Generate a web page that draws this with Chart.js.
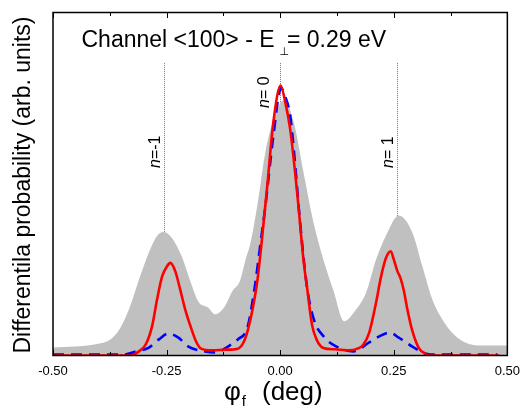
<!DOCTYPE html>
<html>
<head>
<meta charset="utf-8">
<script src="https://cdn.jsdelivr.net/npm/chart.js@4.4.1/dist/chart.umd.min.js"></script>
<style>
  html, body { margin: 0; padding: 0; background: #fff; }
  canvas { display: block; }
</style>
</head>
<body>
<canvas id="c" width="528" height="412"></canvas>
<script>
// Angular distribution of channelled ions, <100> channel, E_perp = 0.29 eV
// Experimental envelope (grey fill)
const expAngles = [-0.50,-0.45,-0.42,-0.398,-0.374,-0.354,-0.333,-0.311,-0.289,-0.272,-0.257,-0.239,-0.217,-0.196,-0.18,-0.159,-0.143,-0.122,-0.104,-0.089,-0.076,-0.065,-0.05,-0.033,-0.014,0.008,0.03,0.052,0.073,0.095,0.117,0.141,0.167,0.189,0.211,0.233,0.261,0.291,0.313,0.335,0.357,0.378,0.407,0.45,0.50];
const expValues = [0.023,0.026,0.03,0.035,0.047,0.076,0.134,0.22,0.30,0.347,0.36,0.344,0.29,0.21,0.157,0.14,0.12,0.143,0.19,0.216,0.28,0.33,0.44,0.59,0.69,0.745,0.68,0.53,0.39,0.28,0.19,0.10,0.134,0.183,0.28,0.35,0.408,0.358,0.26,0.163,0.105,0.067,0.038,0.029,0.029];

// Full calculation (red solid)
const fullAngles = [-0.50,-0.33,-0.322,-0.311,-0.296,-0.282,-0.271,-0.26,-0.249,-0.242,-0.231,-0.22,-0.209,-0.195,-0.184,-0.174,-0.15,-0.12,-0.093,-0.08,-0.07,-0.06,-0.05,-0.04,-0.028,-0.015,0.001,0.011,0.022,0.037,0.052,0.059,0.07,0.08,0.095,0.12,0.152,0.17,0.182,0.196,0.211,0.222,0.233,0.2435,0.25,0.258,0.265,0.272,0.28,0.29,0.305,0.32,0.33,0.483];
const fullValues = [0,0,0.003,0.012,0.032,0.085,0.163,0.23,0.26,0.27,0.246,0.192,0.134,0.076,0.038,0.02,0.015,0.017,0.02,0.04,0.08,0.14,0.22,0.34,0.50,0.68,0.787,0.74,0.66,0.48,0.27,0.20,0.09,0.047,0.022,0.018,0.015,0.02,0.03,0.067,0.154,0.23,0.285,0.304,0.28,0.246,0.225,0.19,0.134,0.076,0.022,0.005,0,0];

// Approximate calculation (blue dashed)
const approxAngles = [-0.50,-0.343,-0.317,-0.289,-0.267,-0.246,-0.224,-0.202,-0.165,-0.141,-0.115,-0.093,-0.072,-0.057,-0.043,-0.033,-0.015,0.002,0.011,0.022,0.03,0.043,0.059,0.074,0.096,0.124,0.161,0.196,0.217,0.241,0.261,0.291,0.313,0.33,0.478];
const approxValues = [0.003,0.003,0.012,0.023,0.047,0.064,0.052,0.026,0.012,0.009,0.026,0.047,0.082,0.19,0.33,0.43,0.64,0.78,0.755,0.70,0.60,0.40,0.20,0.105,0.055,0.026,0.012,0.038,0.055,0.067,0.052,0.026,0.009,0.003,0.003];

// Axis ticks
const tickValues = [-0.50,-0.25,0.00,0.25,0.50];
const tickLabels = ['-0.50','-0.25','0.00','0.25','0.50'];
const minorTickValues = [-0.375,-0.125,0.125,0.375];

// Diffraction orders
const orderAngles = [-0.2565, 0, 0.2565];
const orderLabels = ['=-1', '= 0', '= 1'];

const FONT = '"Liberation Sans", Arial, "DejaVu Sans", sans-serif';

function pts(xs, ys) { return xs.map((x, i) => ({ x: x, y: ys[i] })); }

const decorations = {
  id: 'decorations',
  beforeDatasetsDraw(chart) {
    const { ctx, scales: { x, y }, chartArea } = chart;
    ctx.save();
    ctx.strokeStyle = '#7a7a7a';
    ctx.lineWidth = 1;
    ctx.setLineDash([1, 1]);
    orderAngles.forEach(a => {
      const px = Math.round(x.getPixelForValue(a)) + 0.5;
      ctx.beginPath();
      ctx.moveTo(px, y.getPixelForValue(0.853));
      ctx.lineTo(px, chartArea.bottom);
      ctx.stroke();
    });
    ctx.restore();
  },
  afterDraw(chart) {
    const { ctx, scales: { x, y }, chartArea: a } = chart;
    ctx.save();
    // frame
    ctx.strokeStyle = '#000';
    ctx.lineWidth = 1.5;
    ctx.strokeRect(a.left, a.top, a.right - a.left, a.bottom - a.top);
    // inward ticks on top and bottom
    ctx.lineWidth = 1;
    const tick = (v, len) => {
      const px = Math.round(x.getPixelForValue(v)) + 0.5;
      ctx.beginPath();
      ctx.moveTo(px, a.bottom); ctx.lineTo(px, a.bottom - len);
      ctx.moveTo(px, a.top); ctx.lineTo(px, a.top + len);
      ctx.stroke();
    };
    tickValues.forEach(v => tick(v, 5.5));
    minorTickValues.forEach(v => tick(v, 3.5));

    ctx.fillStyle = '#000';
    // title inside the plot
    ctx.textAlign = 'left';
    ctx.textBaseline = 'alphabetic';
    ctx.font = '23px ' + FONT;
    const t1 = 'Channel <100> - E';
    ctx.fillText(t1, 81.5, 46.5);
    const w1 = ctx.measureText(t1).width;
    ctx.font = '11px ' + FONT;
    ctx.fillText('\u22A5', 81.5 + w1 + 5, 55);
    ctx.font = '23px ' + FONT;
    ctx.fillText('= 0.29 eV', 287, 46.5);

    // order labels, rotated
    const baseOffsets = [-3.5, -11, -4];
    const starts = [168, 108, 168];
    orderAngles.forEach((ang, i) => {
      const px = x.getPixelForValue(ang) + baseOffsets[i];
      ctx.save();
      ctx.translate(px, starts[i]);
      ctx.rotate(-Math.PI / 2);
      ctx.font = 'italic 16px ' + FONT;
      ctx.fillText('n', 0, 0);
      const wn = ctx.measureText('n').width;
      ctx.font = '16px ' + FONT;
      ctx.fillText(orderLabels[i], wn, 0);
      ctx.restore();
    });

    // y axis title
    ctx.save();
    ctx.translate(30, 185);
    ctx.rotate(-Math.PI / 2);
    ctx.textAlign = 'center';
    ctx.font = '23px ' + FONT;
    ctx.fillText('Differentila probability (arb. units)', 0, 0);
    ctx.restore();

    // x axis title
    ctx.textAlign = 'left';
    ctx.font = '26px ' + FONT;
    ctx.fillText('\u03C6', 224, 400);
    const wp = ctx.measureText('\u03C6').width;
    ctx.font = '15px ' + FONT;
    ctx.fillText('f', 224 + wp + 1, 406);
    ctx.font = '26px ' + FONT;
    ctx.fillText('(deg)', 262, 400);
    ctx.restore();
  }
};

new Chart(document.getElementById('c'), {
  type: 'line',
  data: {
    datasets: [
      {
        data: pts(fullAngles, fullValues),
        borderColor: '#ff0000', borderWidth: 2.6,
        pointRadius: 0, fill: false,
        cubicInterpolationMode: 'monotone', order: 1
      },
      {
        data: pts(approxAngles, approxValues),
        borderColor: '#0000ff', borderWidth: 2.6, borderDash: [11, 7],
        pointRadius: 0, fill: false,
        cubicInterpolationMode: 'monotone', order: 2
      },
      {
        data: pts(expAngles, expValues),
        borderWidth: 0, borderColor: 'rgba(0,0,0,0)',
        backgroundColor: '#c0c0c0',
        pointRadius: 0, fill: 'origin',
        cubicInterpolationMode: 'monotone', order: 3
      }
    ]
  },
  options: {
    responsive: false,
    animation: false,
    events: [],
    layout: { padding: { left: 53, right: 15, top: 12.5, bottom: 0 } },
    plugins: { legend: { display: false }, tooltip: { enabled: false } },
    scales: {
      x: {
        type: 'linear', min: -0.5, max: 0.5,
        afterBuildTicks: s => { s.ticks = tickValues.map(v => ({ value: v })); },
        afterFit: s => { s.height = 56.5; },
        ticks: {
          callback: (v, i) => tickLabels[i],
          font: { family: FONT, size: 13 },
          color: '#000', padding: 8, maxRotation: 0, autoSkip: false
        },
        grid: { display: false, drawTicks: false },
        border: { display: false }
      },
      y: { display: false, min: 0, max: 1 }
    }
  },
  plugins: [decorations]
});
</script>
</body>
</html>
